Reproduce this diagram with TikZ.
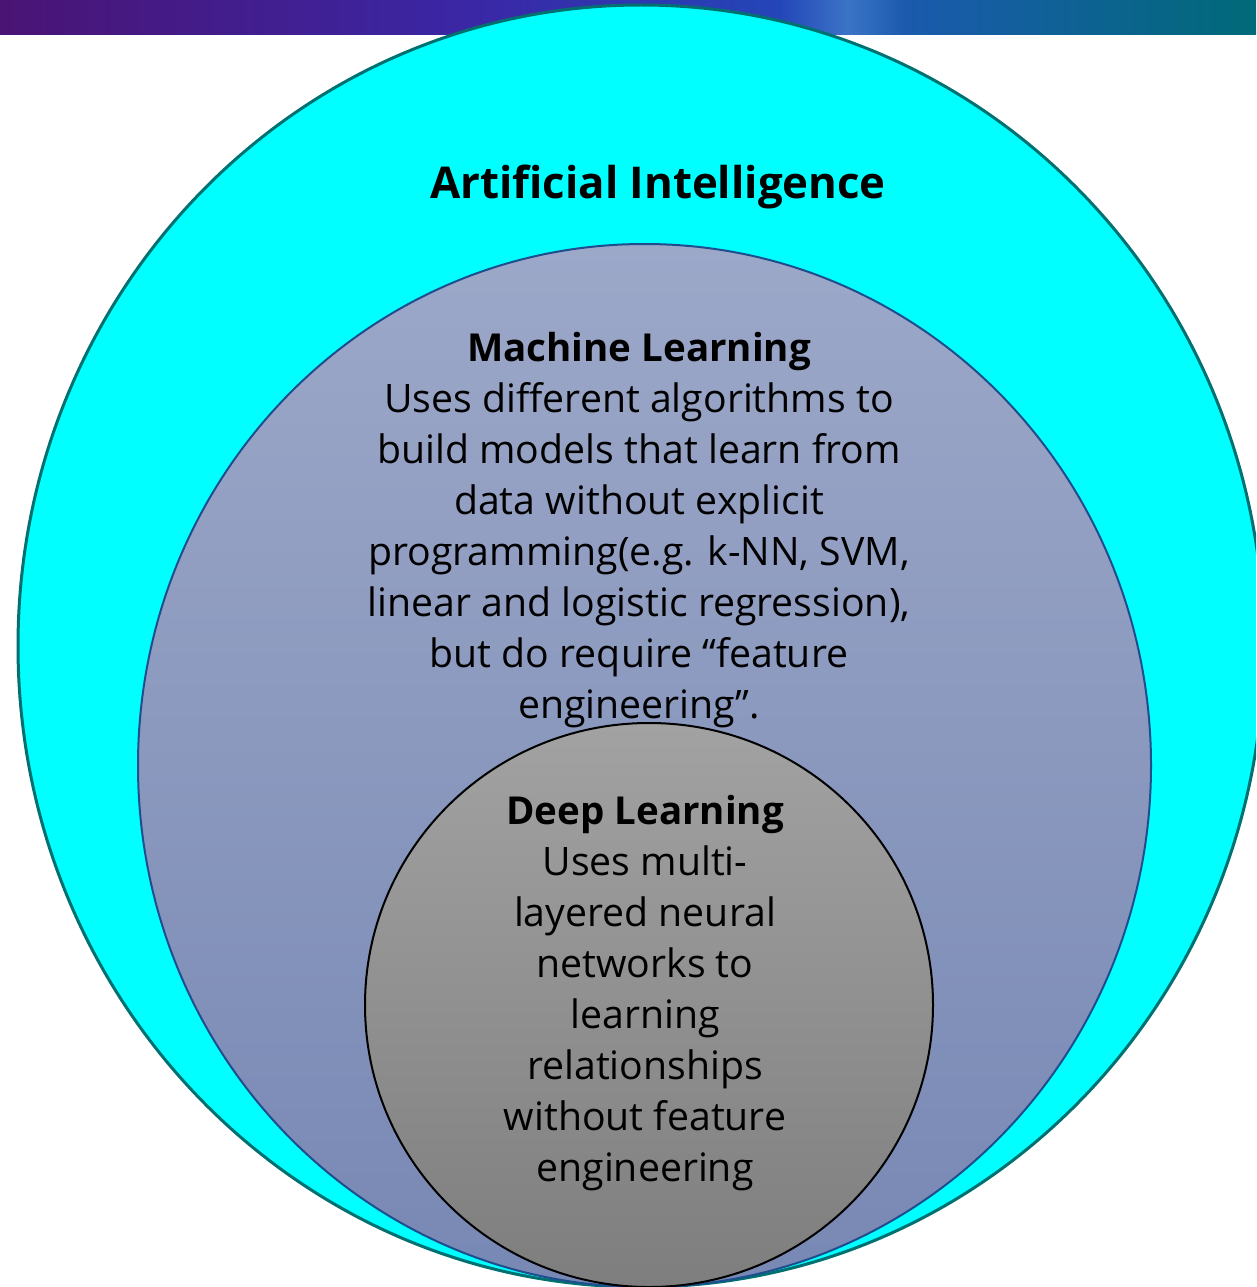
\documentclass[tikz,border=0pt]{standalone}
\usepackage{fontspec}
\setmainfont{Open Sans}[Ligatures={TeX,NoCommon}]
\definecolor{bandA}{HTML}{4A1474}
\definecolor{bandB}{HTML}{3A27A6}
\definecolor{bandC}{HTML}{2446B8}
\definecolor{bandD}{HTML}{3B74C6}
\definecolor{bandE}{HTML}{1B5AAE}
\definecolor{bandF}{HTML}{006A78}
\definecolor{aiFill}{HTML}{00FFFF}
\definecolor{aiLine}{HTML}{007070}
\definecolor{mlTop}{HTML}{9CA8C8}
\definecolor{mlBot}{HTML}{7888B4}
\definecolor{mlLine}{HTML}{1F4E8F}
\definecolor{dlTop}{HTML}{A2A2A2}
\definecolor{dlBot}{HTML}{7E7E7E}
\pgfdeclarehorizontalshading{bandshade}{100bp}{color(0bp)=(bandA); color(25bp)=(bandA); color(44bp)=(bandB); color(56bp)=(bandC); color(58.75bp)=(bandD); color(61bp)=(bandE); color(75bp)=(bandF); color(100bp)=(bandF)}
\newcommand{\headfont}[1]{\fontsize{#1}{51}\selectfont\bfseries}
\tikzset{
  setfont/.style={font=\fontsize{#1}{51}\selectfont},
  blocktext/.style={align=center, inner sep=0pt, text=black},
}
\begin{document}
\begin{tikzpicture}[x=1pt,y=-1pt]
\useasboundingbox (0,0) rectangle (1256,1287);
\clip (0,0) rectangle (1256,1287);
\fill[white] (0,0) rectangle (1256,1287);
% header band
\shade[shading=bandshade] (0,0) rectangle (1256,35);
% nested sets
\draw[aiLine, line width=3pt, fill=aiFill] (641,646) ellipse [x radius=623pt, y radius=641pt];
\draw[mlLine, line width=2pt, top color=mlTop, bottom color=mlBot] (644.5,765.5) ellipse [x radius=506.5pt, y radius=521.5pt];
\draw[black, line width=2pt, top color=dlTop, bottom color=dlBot] (649,1005) ellipse [x radius=284pt, y radius=282pt];
% labels
\node[blocktext, setfont=43.8] (ai) at (658,187) {\bfseries Artificial Intelligence};
\node[blocktext, setfont=39.2] (ml) at (639,530) {{\headfont{38.5}Machine Learning}\\Uses different algorithms to\\build models that learn from\\data without explicit\\programming(e.g. k-NN, SVM,\\linear and logistic regression),\\but do require “feature\\engineering”.};
\node[blocktext, setfont=39.2] (dl) at (645,993) {{\headfont{38.5}Deep Learning}\\Uses multi-\\layered neural\\networks to\\learning\\relationships\\without feature\\engineering};
\end{tikzpicture}
\end{document}
